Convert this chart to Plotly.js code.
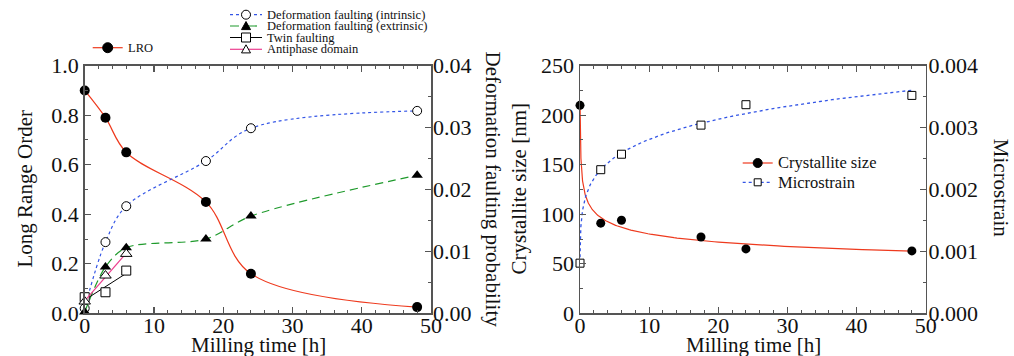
<!DOCTYPE html>
<html>
<head>
<meta charset="utf-8">
<script src="https://cdn.plot.ly/plotly-3.0.1.min.js"></script>
<style>html,body{margin:0;padding:0;background:#fff;}#chart{width:1014px;height:356px;}</style>
</head>
<body>
<div id="chart"></div>
<script>
// ---------- data ----------
const timeLeft = [0, 3, 6, 17.5, 24, 48];
const lro = [0.90, 0.79, 0.65, 0.45, 0.16, 0.025];
const faultIntrinsic = [0.0008, 0.0115, 0.0173, 0.0246, 0.0299, 0.0327];
const faultExtrinsic = [0.0002, 0.0075, 0.0106, 0.0120, 0.0157, 0.0223];
const timeShort = [0, 3, 6];
const twinFaulting = [0.0026, 0.0034, 0.0069];
const antiphaseDomain = [0.0019, 0.0061, 0.0096];

const timeRight = [0, 3, 6, 17.5, 24, 48];
const crystalliteSize = [210, 91, 94, 77, 65, 63];
const microstrain = [0.00081, 0.00232, 0.00257, 0.00304, 0.00337, 0.00352];

// ---------- helpers ----------
const W = 1014, H = 356;
const FONT = '"Liberation Serif", "Times New Roman", Times, serif';
const px = x => x / W;
const py = y => 1 - y / H;

function linFit(xs, ys) {
  const n = xs.length;
  const mx = xs.reduce((a, b) => a + b, 0) / n;
  const my = ys.reduce((a, b) => a + b, 0) / n;
  let sxy = 0, sxx = 0;
  for (let i = 0; i < n; i++) { sxy += (xs[i] - mx) * (ys[i] - my); sxx += (xs[i] - mx) ** 2; }
  const slope = sxy / sxx;
  return { slope, intercept: my - slope * mx };
}
function linLine(xs, ys) {
  const f = linFit(xs, ys);
  const ex = [xs[0], xs[xs.length - 1]];
  return { x: ex, y: ex.map(v => f.intercept + f.slope * v) };
}
// power-law fit y = A x^b on points with x>0 (the fitted curves of the original)
function powerCurve(xs, ys) {
  const lx = [], ly = [];
  xs.forEach((v, i) => { if (v > 0) { lx.push(Math.log(v)); ly.push(Math.log(ys[i])); } });
  const f = linFit(lx, ly);
  const A = Math.exp(f.intercept), b = f.slope;
  const x0 = Math.pow(ys[0] / A, 1 / b);
  const x1 = xs[xs.length - 1];
  const cx = [0], cy = [ys[0]];
  const n = 240;
  for (let i = 0; i <= n; i++) {
    const x = Math.exp(Math.log(x0) + (Math.log(x1) - Math.log(x0)) * i / n);
    cx.push(x); cy.push(A * Math.pow(x, b));
  }
  return { x: cx, y: cy };
}

const RED = '#ee3a1e', BLUE = '#3355e6', GREEN = '#1f9a2c', PINK = '#ec3f8f', BLACK = '#000';

const twinLine = linLine(timeShort, twinFaulting);
const apdLine = linLine(timeShort, antiphaseDomain);
const sizeFit = powerCurve(timeRight, crystalliteSize);
const strainFit = powerCurve(timeRight, microstrain);

const openMk = (sym, size) => ({ symbol: sym, size: size, color: '#fff', line: { color: BLACK, width: 1 } });
const fillMk = (sym, size) => ({ symbol: sym, size: size, color: BLACK, line: { color: BLACK, width: 0 } });

const traces = [
  { x: timeLeft, y: faultIntrinsic, xaxis: 'x', yaxis: 'y2', name: 'Deformation faulting (intrinsic)', mode: 'lines+markers',
    line: { color: BLUE, dash: 'dot', width: 1.2, shape: 'spline', smoothing: 1 }, marker: openMk('circle', 9), cliponaxis: false },
  { x: timeLeft, y: faultExtrinsic, xaxis: 'x', yaxis: 'y2', name: 'Deformation faulting (extrinsic)', mode: 'lines+markers',
    line: { color: GREEN, dash: '8px,5px', width: 1.2, shape: 'spline', smoothing: 0.9 }, marker: fillMk('triangle-up', 10), cliponaxis: false },
  { x: twinLine.x, y: twinLine.y, xaxis: 'x', yaxis: 'y2', mode: 'lines', showlegend: false, hoverinfo: 'skip',
    line: { color: BLACK, width: 1 } },
  { x: timeShort, y: twinFaulting, xaxis: 'x', yaxis: 'y2', name: 'Twin faulting', mode: 'markers',
    marker: openMk('square', 9), cliponaxis: false },
  { x: apdLine.x, y: apdLine.y, xaxis: 'x', yaxis: 'y2', mode: 'lines', showlegend: false, hoverinfo: 'skip',
    line: { color: PINK, width: 1.2 } },
  { x: timeShort, y: antiphaseDomain, xaxis: 'x', yaxis: 'y2', name: 'Antiphase domain', mode: 'markers',
    marker: openMk('triangle-up', 10), cliponaxis: false },
  { x: timeLeft, y: lro, xaxis: 'x', yaxis: 'y', name: 'LRO', mode: 'lines+markers',
    line: { color: RED, width: 1.2, shape: 'spline', smoothing: 1 }, marker: fillMk('circle', 10), cliponaxis: false },

  { x: sizeFit.x, y: sizeFit.y, xaxis: 'x2', yaxis: 'y3', mode: 'lines', showlegend: false, hoverinfo: 'skip',
    line: { color: RED, width: 1.2 } },
  { x: strainFit.x, y: strainFit.y, xaxis: 'x2', yaxis: 'y4', mode: 'lines', showlegend: false, hoverinfo: 'skip',
    line: { color: BLUE, width: 1.3, dash: '3px,3px' } },
  { x: timeRight, y: crystalliteSize, xaxis: 'x2', yaxis: 'y3', name: 'Crystallite size', mode: 'markers',
    marker: fillMk('circle', 9), cliponaxis: false },
  { x: timeRight, y: microstrain, xaxis: 'x2', yaxis: 'y4', name: 'Microstrain', mode: 'markers',
    marker: openMk('square', 8), cliponaxis: false }
];

// ---------- axes ----------
const AX = '#555';
const tickFont = () => ({ family: FONT, size: 22, color: '#111' });
function xAx(domain, anchor) {
  return { domain: domain, anchor: anchor, range: [0, 50], dtick: 10, tick0: 0, showline: true, linecolor: AX, linewidth: 1.5,
    mirror: 'ticks', ticks: 'inside', ticklen: 6, tickcolor: AX, tickwidth: 1.2, showgrid: false, zeroline: false,
    minor: { dtick: 2, ticks: 'inside', ticklen: 3, tickcolor: AX, tickwidth: 1 },
    ticklabelstandoff: -8, tickfont: tickFont() };
}
function yAx(range, dtick, mdtick, fmt, extra) {
  return Object.assign({ range: range, dtick: dtick, tick0: 0, showline: true, linecolor: AX, linewidth: 1.5,
    ticks: 'inside', ticklen: 6, tickcolor: AX, tickwidth: 1.2, showgrid: false, zeroline: false,
    minor: { dtick: mdtick, ticks: 'inside', ticklen: 3, tickcolor: AX, tickwidth: 1 },
    tickformat: fmt, tickfont: tickFont() }, extra);
}
const yDom = [(H - 313.3) / H, (H - 65.7) / H];

// ---------- hand-made legends (tight row spacing of the original) ----------
const shapes = [], annotations = [];
function legendRow(xLeft, len, yc, color, dash, width, symbol, filled, r, text, fsize) {
  shapes.push({ type: 'line', xref: 'paper', yref: 'paper', x0: px(xLeft), x1: px(xLeft + len), y0: py(yc), y1: py(yc),
    line: { color: color, width: width, dash: dash } });
  const xc = px(xLeft + len / 2), yp = py(yc);
  const base = { xref: 'paper', yref: 'paper', xsizemode: 'pixel', ysizemode: 'pixel', xanchor: xc, yanchor: yp,
    fillcolor: filled ? BLACK : '#fff', line: { color: BLACK, width: 1 } };
  if (symbol === 'circle') shapes.push(Object.assign({ type: 'circle', x0: -r, x1: r, y0: -r, y1: r }, base));
  else if (symbol === 'square') shapes.push(Object.assign({ type: 'rect', x0: -r, x1: r, y0: -r, y1: r }, base));
  else shapes.push(Object.assign({ type: 'path', path: `M${-r},${-r * 0.8}L${r},${-r * 0.8}L0,${r}Z` }, base));
  annotations.push({ xref: 'paper', yref: 'paper', x: px(xLeft + len + 3), y: yp, xanchor: 'left', yanchor: 'middle',
    text: text, showarrow: false, font: { family: FONT, size: fsize, color: '#111' } });
}
legendRow(92.7, 30, 47.7, RED, 'solid', 1.2, 'circle', true, 5, 'LRO', 12.5);
legendRow(230, 32, 14.7, BLUE, 'dot', 1.2, 'circle', false, 4.5, 'Deformation faulting (intrinsic)', 12.5);
legendRow(230, 32, 26.0, GREEN, 'dash', 1.2, 'triangle', true, 4.5, 'Deformation faulting (extrinsic)', 12.5);
legendRow(230, 32, 37.5, BLACK, 'solid', 1, 'square', false, 4.5, 'Twin faulting', 12.5);
legendRow(230, 32, 49.3, PINK, 'solid', 1.2, 'triangle', false, 4.5, 'Antiphase domain', 12.5);
legendRow(742.7, 30, 163, RED, 'solid', 1.2, 'circle', true, 4.5, 'Crystallite size', 16.5);
legendRow(742.7, 30, 182.3, BLUE, '3px,3px', 1.3, 'square', false, 3.5, 'Microstrain', 16.5);

// axis titles
const titleFont = { family: FONT, size: 21, color: '#111' };
function title(x, y, text, angle) {
  annotations.push({ xref: 'paper', yref: 'paper', x: px(x), y: py(y), text: text, textangle: angle,
    showarrow: false, xanchor: 'center', yanchor: 'middle', font: titleFont });
}
title(24, 189.5, 'Long Range Order', -90);
title(493, 189.5, 'Deformation faulting probability', 90);
title(518, 189.5, 'Crystallite size [nm]', -90);
title(1001.7, 187.5, 'Microstrain', 90);
title(258, 345, 'Milling time [h]', 0);
title(753, 345, 'Milling time [h]', 0);

const layout = {
  width: W, height: H, margin: { l: 0, r: 0, t: 0, b: 0 }, showlegend: false,
  paper_bgcolor: '#fff', plot_bgcolor: '#fff', font: { family: FONT, color: '#111' },
  xaxis: xAx([84.7 / W, 431 / W], 'y'),
  yaxis: yAx([0, 1], 0.2, 0.1, '.1f', { domain: yDom, anchor: 'x' }),
  yaxis2: yAx([0, 0.04], 0.01, 0.005, '.2f', { overlaying: 'y', side: 'right', anchor: 'x', ticklabelstandoff: -4 }),
  xaxis2: xAx([580 / W, 925.7 / W], 'y3'),
  yaxis3: yAx([0, 250], 50, 25, 'd', { domain: yDom, anchor: 'x2' }),
  yaxis4: yAx([0, 0.004], 0.001, 0.0005, '.3f', { overlaying: 'y3', side: 'right', anchor: 'x2', ticklabelstandoff: -3 }),
  shapes: shapes, annotations: annotations
};

Plotly.newPlot('chart', traces, layout, { displayModeBar: false, staticPlot: true });
</script>
</body>
</html>
